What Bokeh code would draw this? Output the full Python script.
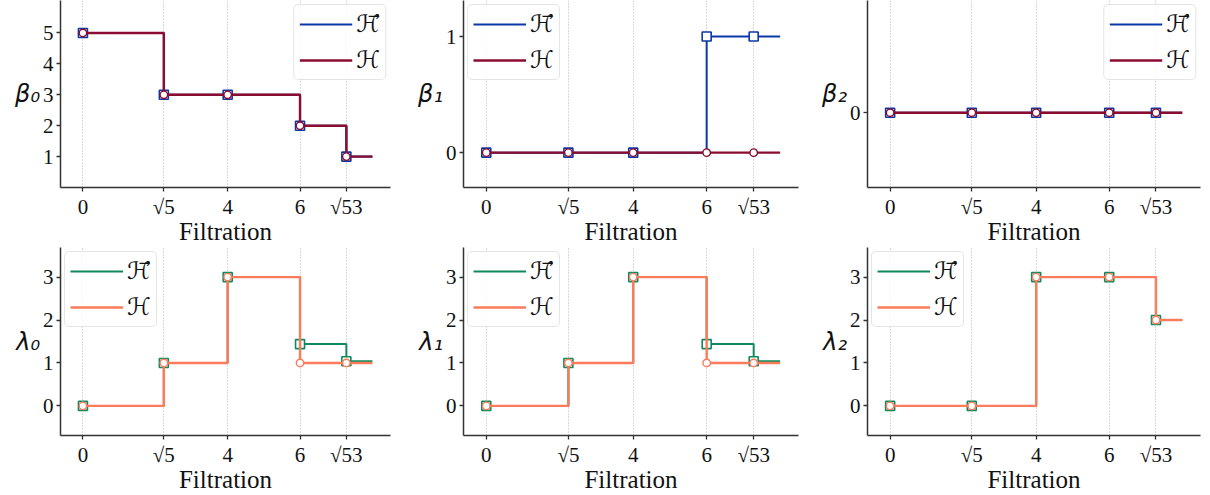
import math
from bokeh.plotting import figure
from bokeh.layouts import column, row
from bokeh.models import FixedTicker, CustomJSTickFormatter, Legend, LegendItem, Range1d
from bokeh.embed import file_html
from bokeh.resources import INLINE

# ---------------- data ----------------
filtration = [0.0, math.sqrt(5), 4.0, 6.0, math.sqrt(53)]
filtration_end = 8.0
x_tick_labels = ["0", "\u221a5", "4", "6", "\u221a53"]

beta0_directed = [5, 3, 3, 2, 1]
beta0_undirected = [5, 3, 3, 2, 1]
beta1_directed = [0, 0, 0, 1, 1]
beta1_undirected = [0, 0, 0, 0, 0]
beta2_directed = [0, 0, 0, 0, 0]
beta2_undirected = [0, 0, 0, 0, 0]

lambda0_directed = [0, 1, 3, 1.44, 1.04]
lambda0_undirected = [0, 1, 3, 1, 1]
lambda1_directed = [0, 1, 3, 1.44, 1.04]
lambda1_undirected = [0, 1, 3, 1, 1]
lambda2_directed = [0, 0, 3, 3, 2]
lambda2_undirected = [0, 0, 3, 3, 2]

beta0_ticks = [1, 2, 3, 4, 5]
beta1_ticks = [0, 1]
beta2_ticks = [0]
lambda_ticks = [0, 1, 2, 3]

legend_labels = ["\u210b\u20d7", "\u210b"]

BLUE = "#0b38a8"
MAROON = "#8a0c30"
GREEN = "#0e8a5e"
SALMON = "#fb7b5b"

SERIF = "Liberation Serif"


def panel(ylabel, directed, undirected, c_dir, c_und, yr, yticks, legend_loc,
          w, bl, br, h, bt, bb):
    p = figure(width=w, height=h, min_border_left=bl, min_border_right=br,
               min_border_top=bt, min_border_bottom=bb,
               x_range=Range1d(-0.62, 8.5), y_range=Range1d(*yr),
               output_backend="svg", toolbar_location=None)
    p.outline_line_color = None
    p.background_fill_color = "white"
    p.border_fill_color = "white"

    xs = filtration + [filtration_end]
    r1 = p.step(xs, directed + [directed[-1]], mode="after", line_color=c_dir, line_width=2)
    p.scatter(filtration, directed, marker="square", size=9, fill_color="white",
              line_color=c_dir, line_width=1.6)
    r2 = p.step(xs, undirected + [undirected[-1]], mode="after", line_color=c_und, line_width=2.4)
    p.scatter(filtration, undirected, marker="circle", size=7.5, fill_color="white",
              line_color=c_und, line_width=1.4)

    # axes
    p.xaxis.ticker = FixedTicker(ticks=filtration)
    p.xaxis.formatter = CustomJSTickFormatter(args=dict(labels=x_tick_labels),
                                              code="return labels[index];")
    p.yaxis.ticker = FixedTicker(ticks=yticks)
    for ax in (p.xaxis[0], p.yaxis[0]):
        ax.axis_line_color = "#333333"
        ax.axis_line_width = 1.5
        ax.major_tick_line_color = "#333333"
        ax.major_tick_line_width = 1.3
        ax.major_tick_out = 4
        ax.major_tick_in = 0
        ax.minor_tick_line_color = None
        ax.major_label_text_font = SERIF
        ax.major_label_text_font_size = "21px"
        ax.major_label_text_color = "#111111"
        ax.major_label_standoff = 3
    p.xaxis.axis_label = "Filtration"
    p.xaxis.axis_label_text_font = SERIF
    p.xaxis.axis_label_text_font_style = "normal"
    p.xaxis.axis_label_text_font_size = "25px"
    p.xaxis.axis_label_text_color = "#111111"
    p.xaxis.axis_label_standoff = -4

    p.yaxis.axis_label = ylabel
    p.yaxis.axis_label_text_font = "DejaVu Sans"
    p.yaxis.axis_label_text_font_style = "italic"
    p.yaxis.axis_label_text_font_size = "24px"
    p.yaxis.axis_label_text_color = "#111111"
    p.yaxis.axis_label_standoff = 0
    try:
        p.yaxis.axis_label_orientation = "horizontal"
    except Exception:
        pass

    p.xgrid.ticker = FixedTicker(ticks=filtration)
    p.xgrid.grid_line_color = "#b0b0b0"
    p.xgrid.grid_line_dash = "1 2"
    p.xgrid.grid_line_width = 1
    p.ygrid.grid_line_color = None

    legend = Legend(items=[LegendItem(label=legend_labels[0], renderers=[r1]),
                           LegendItem(label=legend_labels[1], renderers=[r2])],
                    location=legend_loc)
    legend.label_text_font = "DejaVu Sans"
    legend.label_text_font_size = "24px"
    legend.label_text_color = "#111111"
    legend.glyph_width = 53
    legend.glyph_height = 26
    legend.label_standoff = 4
    legend.label_height = 26
    legend.spacing = 8
    legend.padding = 5
    legend.margin = 4
    legend.border_line_color = "#cccccc"
    legend.border_line_width = 1
    legend.background_fill_alpha = 0.85
    try:
        legend.border_radius = 5
    except Exception:
        pass
    p.add_layout(legend)
    return p


top_kw = dict(h=247, bt=0, bb=57)
bot_kw = dict(h=248, bt=0, bb=52)
col1 = dict(w=408, bl=60, br=18)
col2 = dict(w=400, bl=55, br=10)
col3 = dict(w=394, bl=59, br=2)

p1 = panel("\u03b2\u2080", beta0_directed, beta0_undirected, BLUE, MAROON, (0.0, 6.05), beta0_ticks,
           "top_right", **col1, **top_kw)
p2 = panel("\u03b2\u2081", beta1_directed, beta1_undirected, BLUE, MAROON, (-0.3, 1.31), beta1_ticks,
           "top_left", **col2, **top_kw)
p3 = panel("\u03b2\u2082", beta2_directed, beta2_undirected, BLUE, MAROON, (-0.4, 0.6), beta2_ticks,
           "top_right", **col3, **top_kw)
p4 = panel("\u03bb\u2080", lambda0_directed, lambda0_undirected, GREEN, SALMON, (-0.69, 3.69), lambda_ticks,
           "top_left", **col1, **bot_kw)
p5 = panel("\u03bb\u2081", lambda1_directed, lambda1_undirected, GREEN, SALMON, (-0.69, 3.69), lambda_ticks,
           "top_left", **col2, **bot_kw)
p6 = panel("\u03bb\u2082", lambda2_directed, lambda2_undirected, GREEN, SALMON, (-0.69, 3.69), lambda_ticks,
           "top_left", **col3, **bot_kw)

layout = column(row(p1, p2, p3), row(p4, p5, p6))
open("out.html", "w").write(file_html(layout, INLINE))
